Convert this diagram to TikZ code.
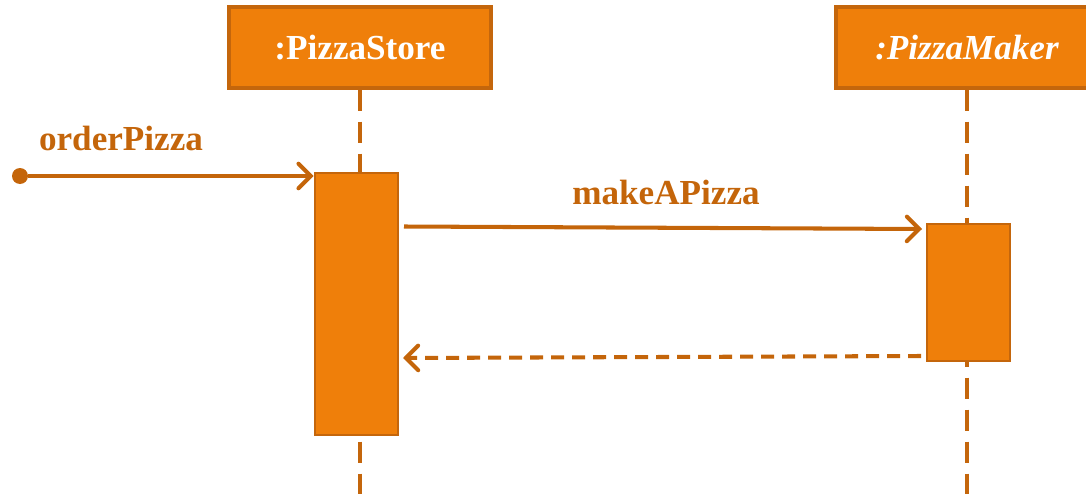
\documentclass[tikz,border=0pt]{standalone}
\usepackage{fontspec}
\setmainfont{Liberation Serif}
\usepackage{xcolor}
\usetikzlibrary{positioning, arrows.meta}

\definecolor{boxfill}{HTML}{EF7F0A}
\definecolor{boxline}{HTML}{C4660C}
\definecolor{msgcol}{HTML}{C4650A}

\tikzset{
  object/.style={rectangle, draw=boxline, fill=boxfill, line width=1.8pt, minimum width=5.24cm, minimum height=1.62cm, inner sep=0pt, text=white, font=\fontsize{20}{24}\selectfont\bfseries},
  actbar/.style={rectangle, draw=boxline, fill=boxfill, line width=1.6pt, minimum width=1.66cm, inner sep=0pt},
  lifeline/.style={draw=boxline, line width=2.2pt, dash pattern=on 0.42cm off 0.22cm},
  msg/.style={draw=msgcol, line width=2.3pt, -{Straight Barb[length=7pt, width=14pt, line cap=round]}},
  reply/.style={msg, dash pattern=on 0.26cm off 0.16cm},
  msglabel/.style={text=msgcol, font=\fontsize{20}{24}\selectfont\bfseries}
}

\begin{document}
\begin{tikzpicture}[x=0.02cm, y=-0.02cm]
    \clip (0,0) rectangle (1086,494);
    \useasboundingbox (0,0) rectangle (1086,494);

    % objects
    \node[object] (store) at (360, 47.5) {:PizzaStore};
    \node[object, font=\fontsize{20}{24}\selectfont\bfseries\itshape] (maker) at (967, 47.5) {:PizzaMaker};

    % lifelines
    \coordinate (storeend) at (360, 494);
    \coordinate (makerend) at (967, 494);
    \draw[lifeline] (store.south) -- (storeend);
    \draw[lifeline] (maker.south) -- (makerend);

    % activation bars
    \node[actbar, minimum height=5.24cm] (storebar) at (356.5, 304) {};
    \node[actbar, minimum height=2.74cm] (makerbar) at (968.5, 292.5) {};

    % found message
    \node[circle, fill=msgcol, inner sep=0pt, minimum size=0.32cm] (start) at (20, 176) {};
    \node[msglabel] (orderlbl) at (121, 138) {orderPizza};
    \draw[msg] (start) -- (storebar.west |- start);

    % call and return
    \coordinate (callfrom) at (404, 226.5);
    \coordinate (callto) at (922, 229);
    \draw[msg] (callfrom) -- (callto);
    \node[msglabel] (makelbl) at (666, 192) {makeAPizza};

    \coordinate (retfrom) at (921, 356);
    \coordinate (retto) at (403, 358);
    \draw[reply] (retfrom) -- (retto);
\end{tikzpicture}
\end{document}
